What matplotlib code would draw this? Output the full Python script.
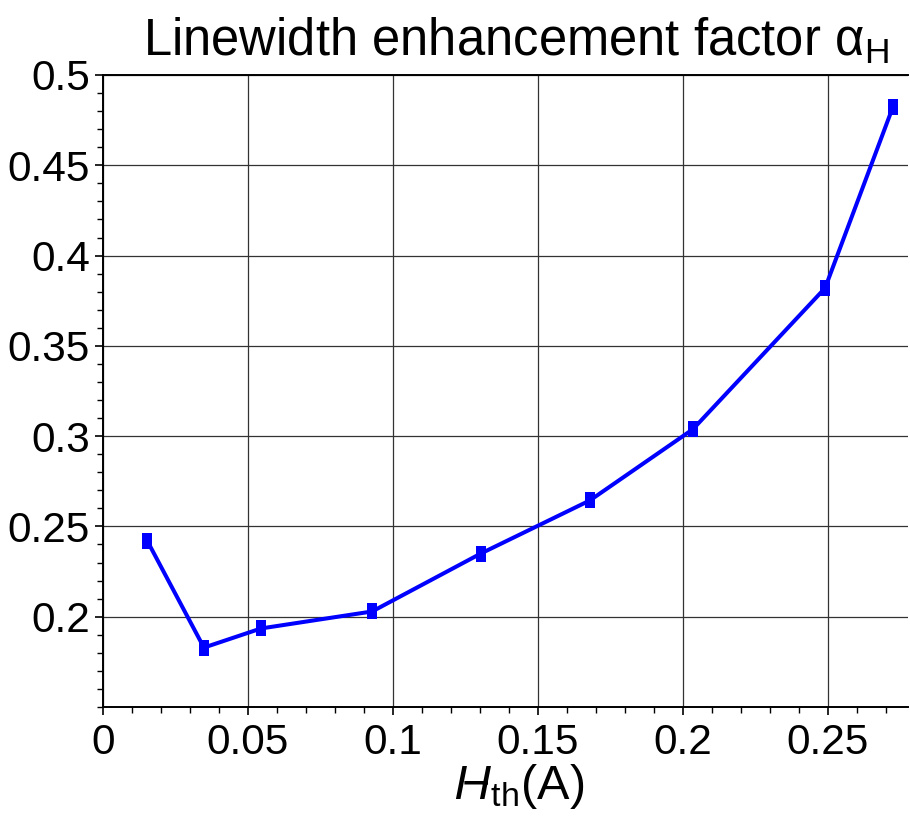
import matplotlib
matplotlib.use("Agg")
import matplotlib.pyplot as plt
from matplotlib.ticker import MultipleLocator

plt.rcParams['font.family'] = ['Liberation Sans', 'DejaVu Sans']
plt.rcParams['mathtext.fontset'] = 'custom'
plt.rcParams['mathtext.rm'] = 'Liberation Sans'
plt.rcParams['mathtext.it'] = 'Liberation Sans:italic'

# Current above threshold (A) and linewidth enhancement factor
current = [0.0152, 0.0348, 0.0545, 0.0928, 0.1303, 0.1679, 0.2034, 0.2490, 0.2724]
alpha_h = [0.2422, 0.1829, 0.1935, 0.2029, 0.2350, 0.2644, 0.3038, 0.3820, 0.4823]

x_ticks = [0, 0.05, 0.1, 0.15, 0.2, 0.25]
x_labels = ['0', '0.05', '0.1', '0.15', '0.2', '0.25']
y_ticks = [0.2, 0.25, 0.3, 0.35, 0.4, 0.45, 0.5]
y_labels = ['0.2', '0.25', '0.3', '0.35', '0.4', '0.45', '0.5']

fig = plt.figure(figsize=(9.10, 8.16), dpi=100)
ax = fig.add_axes([103 / 910, 1 - 707 / 816, 805 / 910, 632 / 816])

# upright rectangular marker
rect = [(-1, -1.5), (1, -1.5), (1, 1.5), (-1, 1.5), (-1, -1.5)]
ax.plot(current, alpha_h, color='#0000ff', lw=2.9, marker=rect,
        markersize=11, markeredgewidth=0, zorder=3)

ax.set_xlim(0, 0.2776)
ax.set_ylim(0.15, 0.5)
ax.set_xticks(x_ticks)
ax.set_xticklabels(x_labels)
ax.set_yticks(y_ticks)
ax.set_yticklabels(y_labels)
ax.xaxis.set_minor_locator(MultipleLocator(0.01))
ax.yaxis.set_minor_locator(MultipleLocator(0.01))

ax.grid(True, which='major', color='#333333', lw=0.9)
ax.tick_params(which='both', direction='out', labelsize=30.5, color='black')
ax.tick_params(which='major', length=5.5, width=1.2)
ax.tick_params(which='minor', length=4, width=1.0)
ax.tick_params(axis='x', pad=6)
ax.tick_params(axis='y', pad=4)

ax.spines['right'].set_visible(False)
for side in ['left', 'bottom', 'top']:
    ax.spines[side].set_linewidth(1.4)
    ax.spines[side].set_color('black')

ax.set_title(r'Linewidth enhancement factor $\mathrm{\alpha}_{\mathrm{H}}$',
             fontsize=36.5, pad=14, x=0.513)
ax.set_xlabel(r'$I\!\!-\!\!\!I_{\mathrm{th}}$(A)', fontsize=35,
              labelpad=-1, x=0.516)

fig.savefig('out.png', dpi=100)
